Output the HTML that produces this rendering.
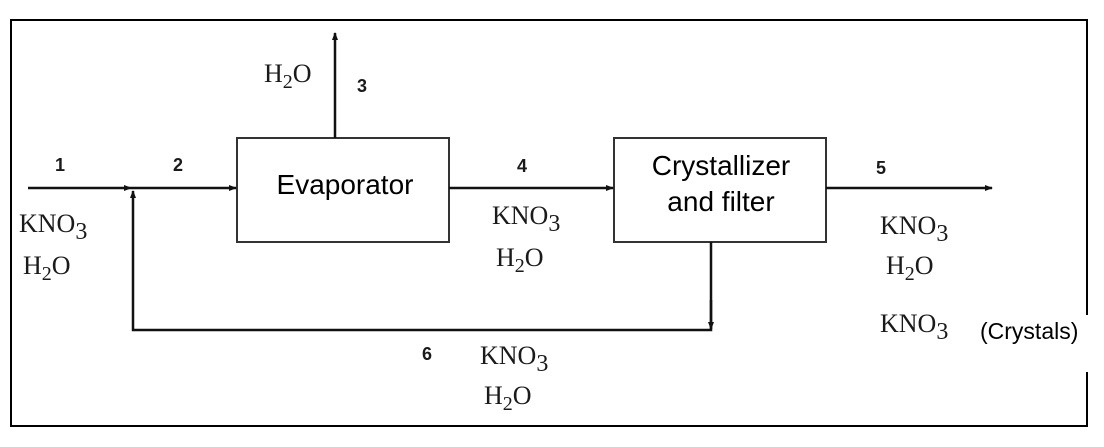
<!DOCTYPE html>
<html><head><meta charset="utf-8"><style>
body{margin:0;background:#fff;width:1104px;height:442px;overflow:hidden}
svg text{font-family:"Liberation Serif",serif;fill:#1a1a1a}
.n{font-family:"Liberation Sans",sans-serif;font-weight:bold;font-size:18px}
.c{font-size:26px}
.b{font-family:"Liberation Sans",sans-serif;font-size:28px;fill:#000}
</style></head><body>
<svg width="1104" height="442" xmlns="http://www.w3.org/2000/svg">
<defs><marker id="a" markerWidth="8" markerHeight="8" refX="7" refY="4" orient="auto" markerUnits="userSpaceOnUse"><path d="M0,1 L8,4 L0,7 z" fill="#111"/></marker></defs>
<g fill="none" stroke="#000" stroke-width="2">
<path d="M1087,315 V20 H11 V426 H1087 V372"/>
</g>
<g fill="#fff" stroke="#333" stroke-width="2">
<rect x="237" y="138" width="212" height="104"/>
<rect x="614" y="138" width="212" height="104"/>
</g>
<g stroke="#111" stroke-width="2.5" fill="none">
<line x1="28" y1="188" x2="131" y2="188" marker-end="url(#a)"/>
<line x1="131" y1="188" x2="236" y2="188" marker-end="url(#a)"/>
<polyline points="711,242 711,330 133,330 133,191" marker-end="url(#a)"/>
<line x1="711" y1="300" x2="711" y2="329" marker-end="url(#a)"/>
<line x1="449" y1="188" x2="613" y2="188" marker-end="url(#a)"/>
<line x1="826" y1="188" x2="992" y2="188" marker-end="url(#a)"/>
<line x1="335" y1="138" x2="335" y2="33" marker-end="url(#a)"/>
</g>
<text class="b" x="345" y="194" text-anchor="middle">Evaporator</text>
<text class="b" x="721" y="175" text-anchor="middle">Crystallizer</text>
<text class="b" x="721" y="211" text-anchor="middle">and filter</text>
<text class="n" x="55" y="171">1</text>
<text class="n" x="173" y="171">2</text>
<text class="n" x="357" y="92">3</text>
<text class="n" x="517" y="172">4</text>
<text class="n" x="876" y="174">5</text>
<text class="n" x="422" y="360">6</text>
<text class="c" x="264" y="82">H<tspan font-size="20" dy="6">2</tspan><tspan dy="-6">O</tspan></text>
<text class="c" x="19" y="232">KNO<tspan font-size="24" dy="7">3</tspan></text>
<text class="c" x="23" y="274">H<tspan font-size="20" dy="6">2</tspan><tspan dy="-6">O</tspan></text>
<text class="c" x="492" y="224">KNO<tspan font-size="24" dy="7">3</tspan></text>
<text class="c" x="496" y="266">H<tspan font-size="20" dy="6">2</tspan><tspan dy="-6">O</tspan></text>
<text class="c" x="880" y="234">KNO<tspan font-size="24" dy="7">3</tspan></text>
<text class="c" x="886" y="274">H<tspan font-size="20" dy="6">2</tspan><tspan dy="-6">O</tspan></text>
<text class="c" x="880" y="332">KNO<tspan font-size="24" dy="7">3</tspan></text>
<text class="b" x="980" y="339" style="font-size:23px">(Crystals)</text>
<text class="c" x="480" y="364">KNO<tspan font-size="24" dy="7">3</tspan></text>
<text class="c" x="484" y="404">H<tspan font-size="20" dy="6">2</tspan><tspan dy="-6">O</tspan></text>
</svg>
</body></html>
